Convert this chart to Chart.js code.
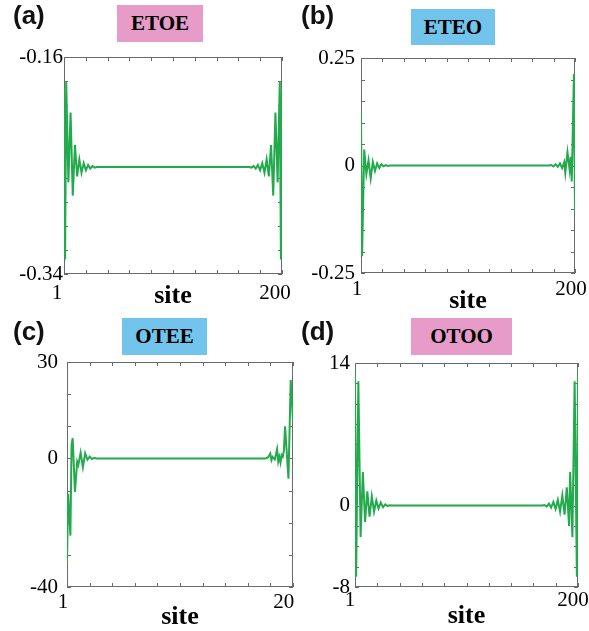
<!DOCTYPE html>
<html>
<head>
<meta charset="utf-8">
<script src="https://cdn.jsdelivr.net/npm/chart.js@4.4.1/dist/chart.umd.min.js"></script>
<style>
  body { margin: 0; background: #fff; width: 589px; height: 631px; position: relative; overflow: hidden; }
  canvas { position: absolute; }
  .tag { position: absolute; font: bold 26px "Liberation Sans", Arial, sans-serif; line-height: 1; color: #111; z-index: 2; }
  .name { position: absolute; font: bold 21px "Liberation Serif", "Times New Roman", serif; color: #000;
          display: flex; align-items: center; justify-content: center; z-index: 2; }
  .pink { background: #e79bc9; }
  .blue { background: #72c4ec; }
</style>
</head>
<body>
<canvas id="chartA" width="295" height="315" style="left:0;top:0"></canvas>
<canvas id="chartB" width="294" height="315" style="left:295px;top:0"></canvas>
<canvas id="chartC" width="295" height="316" style="left:0;top:315px"></canvas>
<canvas id="chartD" width="294" height="316" style="left:295px;top:315px"></canvas>

<div class="tag" style="left:13px;top:2px">(a)</div>
<div class="tag" style="left:301px;top:2px">(b)</div>
<div class="tag" style="left:13px;top:318px">(c)</div>
<div class="tag" style="left:301px;top:318px">(d)</div>

<div class="name pink" style="left:117px;top:5px;width:86px;height:37px">ETOE</div>
<div class="name blue" style="left:411px;top:9px;width:84px;height:36px">ETEO</div>
<div class="name blue" style="left:122px;top:318px;width:85px;height:37px">OTEE</div>
<div class="name pink" style="left:411px;top:318px;width:101px;height:37px">OTOO</div>

<script>
// site axis labels (shared)
const xTickLabels = [1, 200];

// (a) ETOE
const sitesA = [1, 2, 3, 5, 7, 9, 11, 13, 15, 17, 19, 21, 23, 25, 27, 29, 31,
                170, 172, 174, 176, 178, 180, 182, 184, 186, 188, 190, 192, 194, 196, 198, 199, 200];
const valuesA = [-0.186, -0.328, -0.180, -0.264, -0.206, -0.275, -0.233, -0.259, -0.245, -0.256, -0.248, -0.254, -0.2495, -0.2525, -0.2505, -0.2518, -0.2512,
                 -0.2512, -0.2518, -0.2505, -0.2525, -0.2495, -0.254, -0.248, -0.256, -0.245, -0.259, -0.233, -0.275, -0.206, -0.264, -0.180, -0.328, -0.186];
const yLabelsA = [-0.34, -0.16];

// (b) ETEO
const sitesB = [1, 2, 4, 6, 8, 10, 12, 14, 16, 18, 20, 22, 24, 26, 28,
                176, 178, 180, 182, 184, 186, 188, 190, 191, 193, 195, 196, 197, 199, 200];
const valuesB = [0.118, -0.211, 0.037, -0.020, 0.012, -0.030, 0.008, -0.013, 0.005, -0.006, 0.003, -0.002, 0.001, -0.001, 0,
                 0, 0.001, -0.002, 0.003, -0.003, 0.005, -0.006, 0.008, -0.017, 0.031, -0.010, 0.020, -0.037, 0.213, -0.110];
const yLabelsB = [-0.25, 0, 0.25];

// (c) OTEE
const sitesC = [1, 2, 4, 5, 6, 8, 10, 11, 13, 15, 17, 19, 21, 23, 25, 27,
                176, 178, 180, 181, 182, 184, 186, 187, 188, 189, 190, 191, 192, 193, 196, 198, 200];
const valuesC = [-32.7, -11, -24, 4, 6.3, -10.4, -1, -2, 1.8, -2.7, 1.6, -0.4, 0.6, -0.2, 0.2, 0,
                 0, 0.3, 1.5, -0.5, 0.5, -0.3, 2.9, -1.0, 0.5, -1.3, 1.0, 0.5, 2.5, 10, -6.3, 24.4, 11.4];
const yLabelsC = [-40, 0, 30];

// (d) OTOO
const sitesD = [1, 2, 4, 6, 8, 10, 12, 14, 16, 18, 20, 22, 24, 26, 28, 30, 32, 34,
                168, 170, 172, 174, 176, 178, 180, 182, 184, 186, 188, 190, 192, 193, 195, 197, 199, 200];
const valuesD = [13.0, -7.0, 12.2, -3.1, 3.3, -1.6, 1.4, -1.1, 0.9, -0.6, 0.5, -0.3, 0.3, -0.15, 0.12, -0.05, 0.03, 0,
                 0, 0.05, -0.1, 0.2, -0.2, 0.35, -0.35, 0.55, -0.6, 1.0, -0.9, 1.8, -2.0, 3.3, -3.1, 12.2, -7.0, 13.0];
const yLabelsD = [-8, 0, 14];

const serif = '"Liberation Serif", "Times New Roman", serif';
const green = '#22aa4c';

// evenly spaced tick positions between min and max
function spread(min, max, n) {
    const out = [];
    for (let k = 0; k <= n; k++) {
        out.push(k === n ? max : Math.round((min + (max - min) * k / n) * 1e9) / 1e9);
    }
    return out;
}

function hasLabel(list, v) {
    return list.some(l => Math.abs(l - v) < 1e-9);
}

// frame around the plot with short inward ticks on every side
const frameTicks = {
    id: 'frameTicks',
    beforeDatasetsDraw(chart) {
        const {ctx, chartArea: a, scales: {x, y}} = chart;
        ctx.save();
        ctx.strokeStyle = '#6a6a6a';
        ctx.lineWidth = 1;
        ctx.strokeRect(Math.round(a.left) + 0.5, Math.round(a.top) + 0.5,
                       Math.round(a.width) - 1, Math.round(a.height) - 1);
        ctx.beginPath();
        x.ticks.forEach(t => {
            const px = Math.round(x.getPixelForValue(t.value)) + 0.5;
            ctx.moveTo(px, a.top); ctx.lineTo(px, a.top + 4);
            ctx.moveTo(px, a.bottom); ctx.lineTo(px, a.bottom - 4);
        });
        y.ticks.forEach(t => {
            const py = Math.round(y.getPixelForValue(t.value)) + 0.5;
            ctx.moveTo(a.left, py); ctx.lineTo(a.left + 4, py);
            ctx.moveTo(a.right, py); ctx.lineTo(a.right - 4, py);
        });
        ctx.stroke();
        ctx.restore();
    }
};

function drawPanel(id, sites, values, yMin, yMax, ySteps, yLabels, box) {
    const canvas = document.getElementById(id);
    const W = canvas.width, H = canvas.height;
    new Chart(canvas, {
        type: 'line',
        data: {
            datasets: [{
                data: sites.map((s, i) => ({x: s, y: values[i]})),
                borderColor: green,
                borderWidth: 2,
                pointRadius: 0,
                tension: 0,
                fill: false
            }]
        },
        options: {
            responsive: false,
            animation: false,
            devicePixelRatio: 1,
            layout: { padding: { left: 0, top: box.t, right: W - box.r, bottom: box.padBottom } },
            plugins: { legend: { display: false }, tooltip: { enabled: false } },
            scales: {
                x: {
                    type: 'linear',
                    min: 1,
                    max: 200,
                    grid: { display: false, drawTicks: false },
                    border: { display: false },
                    afterBuildTicks: s => { s.ticks = spread(1, 200, 10).map(v => ({value: v})); },
                    afterFit: s => {
                        s.height = H - box.padBottom - box.b;
                        s.paddingLeft = 0; s.paddingRight = 0;
                    },
                    ticks: {
                        autoSkip: false,
                        maxRotation: 0,
                        padding: box.xPad,
                        labelOffset: box.xShift,
                        color: '#000',
                        font: { family: serif, size: 21 },
                        callback: v => hasLabel(xTickLabels, v) ? String(v) : ''
                    },
                    title: {
                        display: true,
                        text: 'site',
                        color: '#000',
                        padding: 0,
                        font: { family: serif, size: 26, weight: 'bold', lineHeight: 1 }
                    }
                },
                y: {
                    min: yMin,
                    max: yMax,
                    grid: { display: false, drawTicks: false },
                    border: { display: false },
                    afterBuildTicks: s => { s.ticks = spread(yMin, yMax, ySteps).map(v => ({value: v})); },
                    afterFit: s => {
                        s.width = box.l;
                        s.paddingTop = 0; s.paddingBottom = 0;
                    },
                    ticks: {
                        autoSkip: false,
                        padding: box.yPad,
                        color: '#000',
                        font: { family: serif, size: 21 },
                        callback: v => hasLabel(yLabels, v) ? String(Math.round(v * 1000) / 1000) : ''
                    }
                }
            }
        },
        plugins: [frameTicks]
    });
}

drawPanel('chartA', sitesA, valuesA, -0.34, -0.16, 9, yLabelsA,
          { l: 64, t: 57, r: 282, b: 274, padBottom: 5.5, xPad: 7, xShift: -7, yPad: 1 });
drawPanel('chartB', sitesB, valuesB, -0.25, 0.25, 10, yLabelsB,
          { l: 66, t: 58, r: 280, b: 273, padBottom: 0.5, xPad: 3.5, xShift: -4, yPad: 6 });
drawPanel('chartC', sitesC, valuesC, -40, 30, 7, yLabelsC,
          { l: 67, t: 47, r: 293, b: 272, padBottom: 0.5, xPad: 2.5, xShift: -4, yPad: 9 });
drawPanel('chartD', sitesD, valuesD, -8, 14, 11, yLabelsD,
          { l: 60, t: 48, r: 283, b: 272, padBottom: 2, xPad: 1, xShift: -5, yPad: 5 });
</script>
</body>
</html>
